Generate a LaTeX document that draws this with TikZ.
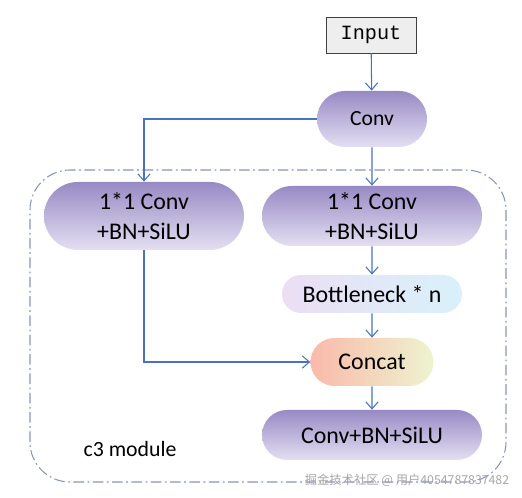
\documentclass[tikz,border=0pt]{standalone}
\usepackage{fontspec}
\setmainfont{Carlito}
\setmonofont{Liberation Mono}
\newfontfamily\cjk{Noto Sans CJK SC}
\usetikzlibrary{shapes.misc,arrows.meta}
\definecolor{arrblue}{HTML}{4A72BE}
\definecolor{frameblue}{HTML}{8A94B8}
\tikzset{
  arr/.style={draw=arrblue,line width=0.6pt,-{Straight Barb[length=4pt,width=7pt]}},
  purplepill/.style={rounded rectangle,inner sep=0pt,top color={rgb,255:red,151;green,138;blue,196},bottom color={rgb,255:red,228;green,223;blue,242}},
  bigtext/.style={font=\fontsize{13.6}{17}\selectfont,align=center}
}
\begin{document}
\begin{tikzpicture}
\useasboundingbox (0,0) rectangle (10.44,9.96);

\draw[frameblue,line width=0.6pt,rounded corners=0.8cm,dash pattern=on 6pt off 2pt on 1pt off 2pt] (0.6,0.32) rectangle (10.12,6.56);

\node (input) at (7.42,9.26)[draw={rgb,255:red,64;green,64;blue,64},fill={rgb,255:red,238;green,238;blue,238},line width=0.5pt,minimum width=1.8cm,minimum height=0.72cm,inner sep=0pt,font=\ttfamily\fontsize{11.5}{13}\selectfont]{Input};
\node (conv) at (7.44,7.58)[purplepill,minimum width=2.2cm,minimum height=1.12cm,font=\fontsize{12.3}{15}\selectfont]{Conv};
\node (left) at (2.88,5.64)[purplepill,bigtext,minimum width=4.0cm,minimum height=1.36cm]{1*1 Conv\\+BN+SiLU};
\node (right) at (7.44,5.64)[purplepill,bigtext,minimum width=4.4cm,minimum height=1.2cm]{1*1 Conv\\+BN+SiLU};
\node (bneck) at (7.44,4.08)[rounded rectangle,inner sep=0pt,left color={rgb,255:red,236;green,222;blue,244},right color={rgb,255:red,216;green,241;blue,251},bigtext,minimum width=3.6cm,minimum height=0.76cm]{Bottleneck * n};
\node (concat) at (7.44,2.72)[rounded rectangle,inner sep=0pt,left color={rgb,255:red,249;green,186;blue,170},right color={rgb,255:red,238;green,243;blue,208},bigtext,minimum width=2.46cm,minimum height=0.96cm]{Concat};
\node (out) at (7.44,1.26)[purplepill,bigtext,minimum width=4.4cm,minimum height=1.0cm]{Conv+BN+SiLU};

\node (label) at (2.6,0.98)[font=\fontsize{12.4}{15}\selectfont]{c3 module};
\node (mark) at (8.14,0.36)[text=gray!70,font=\cjk\fontsize{7}{8}\selectfont]{掘金技术社区 @ 用户4054787837482};

\draw[arr] (input) -- (conv);
\draw[arr] (conv.west) -| (left.north);
\draw[arr] (conv) -- (right);
\draw[arr] (right) -- (bneck);
\draw[arr] (bneck) -- (concat);
\draw[arr] (concat) -- (out);
\draw[arr] (left.south) |- (concat.west);
\end{tikzpicture}
\end{document}
